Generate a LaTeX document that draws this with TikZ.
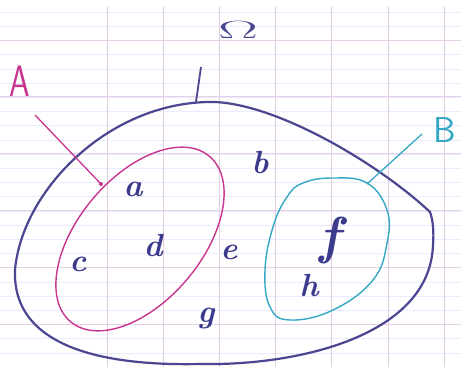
\documentclass[tikz,border=0pt]{standalone}
\usepackage{fontspec}
\begin{document}
\begin{tikzpicture}[x=1pt,y=-1pt,
  gridmajor/.style={draw=violet!18, line width=0.8pt},
  gridminor/.style={draw=blue!8, line width=0.5pt},
  gridv/.style={draw=violet!20, line width=0.8pt},
  omegaline/.style={draw=navyc, line width=2.2pt},
  aline/.style={draw=magc, line width=1.4pt},
  bline/.style={draw=cyanc, line width=1.4pt},
  elem/.style={text=inkc, font=\fontsize{32}{32}\selectfont\bfseries\itshape, inner sep=0pt},
]
\definecolor{navyc}{HTML}{4A4690}
\definecolor{inkc}{HTML}{3C3A8C}
\definecolor{magc}{HTML}{C8348E}
\definecolor{cyanc}{HTML}{34A8C4}
\useasboundingbox (0,0) rectangle (461,367);
\fill[white] (0,0) rectangle (461,367);
% paper ruling
\foreach \k in {0,...,26} {
  \draw[gridminor] (0,{12+14.2*\k}) -- (461,{12+14.2*\k});
}
\foreach \k in {0,...,5} {
  \draw[gridmajor] (0,{40+56.8*\k}) -- (461,{40+56.8*\k});
}
\foreach \k in {0,...,6} {
  \draw[gridv] ({107+56.2*\k},6) -- ({107+56.2*\k},367);
}
% Omega set
\coordinate (T) at (215,102);
\coordinate (L) at (15,270);
\coordinate (Bt) at (200,364);
\coordinate (R) at (433,245);
\coordinate (C) at (430,212);
\draw[omegaline, line join=round] (T) .. controls (110,100) and (22,190) .. (L)
  .. controls (12,350) and (110,366) .. (Bt)
  .. controls (300,366) and (430,335) .. (R)
  .. controls (434,232) and (433,220) .. (C)
  .. controls (380,165) and (280,105) .. (T) -- cycle;
\coordinate (omegapt) at (196,102);
\node[text=navyc, font=\fontsize{38}{38}\selectfont, xscale=2.4, inner sep=0pt] (omega) at (238,30) {$\Omega$};
\draw[draw=navyc, line width=1.8pt] (omegapt) -- (201,67);
% set A
\coordinate (ac) at (140,239);
\draw[aline, rotate around={50:(ac)}] (ac) ellipse [x radius=108pt, y radius=62pt];
\coordinate (apt) at (101,184);
\node[text=magc, font=\fontsize{44}{44}\selectfont\sffamily, xscale=0.75, inner sep=0pt] (A) at (20,81) {A};
\draw[draw=magc, line width=1.3pt] (35,115) -- (apt);
\fill[magc] (apt) circle (2pt);
% set B
\draw[bline] plot[smooth cycle, tension=0.7] coordinates {
  (303,183) (333,178) (367,183) (387,210) (387,243) (373,280) (333,310)
  (290,320) (270,307) (265,270) (273,227) (287,197)};
\coordinate (bpt) at (367,184);
\node[text=cyanc, font=\fontsize{36}{36}\selectfont\sffamily, inner sep=0pt] (B) at (445,130) {B};
\draw[draw=cyanc, line width=1.3pt] (422,134) -- (bpt);
% elements
\node[elem] (a) at (133,189) {a};
\node[elem] (b) at (260,163) {b};
\node[elem] (c) at (78,264) {c};
\node[elem] (d) at (153,246) {d};
\node[elem] (e) at (229,252) {e};
\node[elem, font=\fontsize{52}{52}\selectfont\bfseries\itshape] (f) at (330,240) {f};
\node[elem] (g) at (206,318) {g};
\node[elem] (h) at (309,286) {h};
\end{tikzpicture}
\end{document}
